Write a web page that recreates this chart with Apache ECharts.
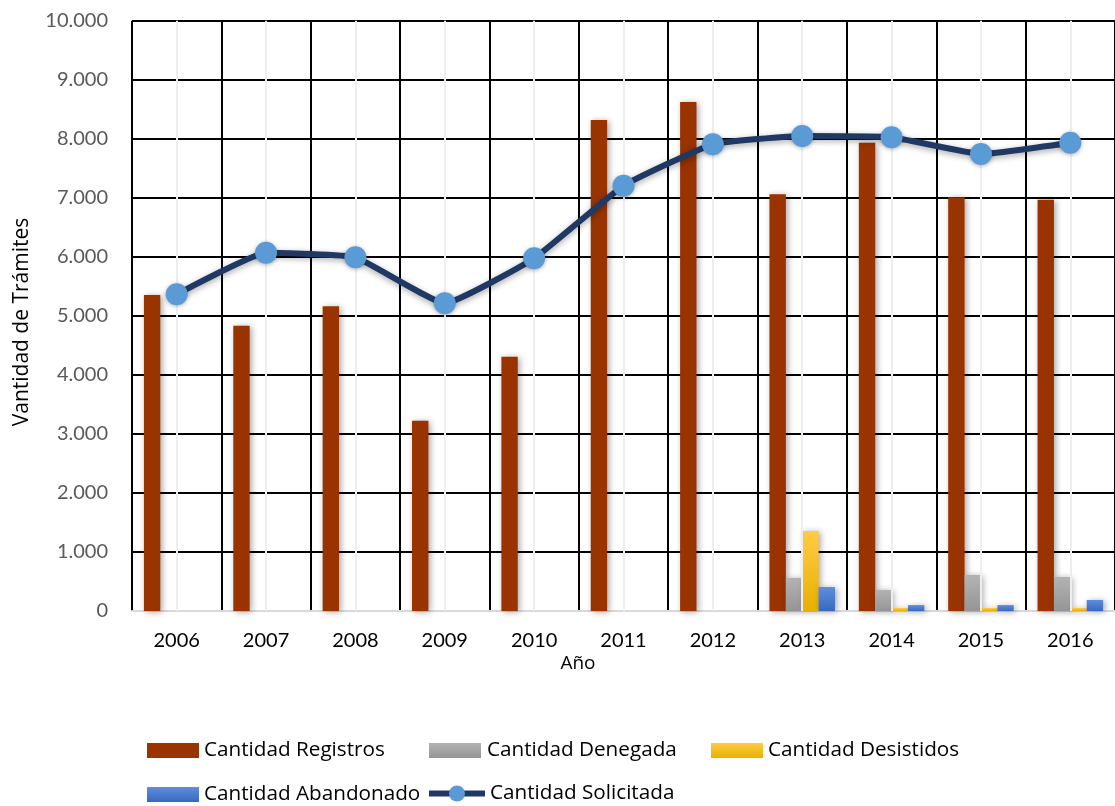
<!DOCTYPE html>
<html><head><meta charset="utf-8">
<script src="https://cdn.jsdelivr.net/npm/echarts@6/dist/echarts.min.js"></script>
<style>html,body{margin:0;padding:0;background:#fff}#c{width:1115px;height:806px}</style>
</head><body><div id="c"></div>
<script>
const years = ['2006','2007','2008','2009','2010','2011','2012','2013','2014','2015','2016'];
const registros  = [5353,4834,5162,3224,4308,8318,8623,7059,7933,7008,6968];
const denegada   = [0,0,0,0,0,0,0,559,356,610,576];
const desistidos = [0,0,0,0,0,0,0,1355,50,50,50];
const abandonado = [0,0,0,0,0,0,0,406,100,100,186];
const solicitada = [5365,6070,5992,5213,5975,7205,7906,8047,8025,7742,7934];
const yMin = 0, yMax = 10000, yStep = 1000;
const names = ['Cantidad Registros','Cantidad Denegada','Cantidad Desistidos','Cantidad Abandonado','Cantidad Solicitada'];

const FONT = 'Lato';
const LFONT = 'Open Sans';
const fmt = v => String(v).replace(/\B(?=(\d{3})+(?!\d))/g, '.');
const grad = (a, b) => new echarts.graphic.LinearGradient(0,0,0,1,[{offset:0,color:a},{offset:1,color:b}]);
const shadow = {shadowBlur:6, shadowColor:'rgba(0,0,0,0.35)', shadowOffsetX:2, shadowOffsetY:1};

const chart = echarts.init(document.getElementById('c'), null, {renderer:'canvas'});
function legendAt(name, left, top, w, h, pad, icon) {
  const l = {data:[{name:name, icon:icon}], left:left, top:top, itemWidth:w, itemHeight:h, orient:'horizontal',
    selectedMode:false, padding:0, itemGap:0,
    lineStyle:{width:6, color:'#203864'},
    textStyle:{fontFamily:LFONT, fontSize:20.7, color:'#000', padding:[0,0,0,pad]}};
  if (!icon) l.data = [name];
  return l;
}
chart.setOption({
  animation:false,
  textStyle:{fontFamily:FONT},
  grid:{left:132, top:20.7, width:990, height:590.3, containLabel:false},
  legend:[
    legendAt(names[0], 147, 740, 52, 15, 0, 'rect'),
    legendAt(names[1], 429, 740, 52, 15, 1, 'rect'),
    legendAt(names[2], 711, 740, 52, 15, 0, 'rect'),
    legendAt(names[3], 147, 784, 52, 15, 0, 'rect'),
    legendAt(names[4], 426, 783, 56, 20, 0, null)
  ],
  xAxis:{type:'category', data:years, boundaryGap:true,
    axisLine:{show:true, lineStyle:{color:'#d9d9d9', width:2}},
    axisTick:{show:false},
    axisLabel:{fontFamily:FONT, fontSize:20, color:'#000', margin:20, interval:0},
    splitLine:{show:true, interval:0, lineStyle:{color:'#000', width:2}}},
  yAxis:{type:'value', min:yMin, max:yMax, interval:yStep,
    axisLine:{show:false}, axisTick:{show:false},
    axisLabel:{fontFamily:FONT, fontSize:20, color:'#595959', margin:24, formatter:fmt},
    splitLine:{show:true, lineStyle:{color:'#000', width:2}}},
  graphic:[
    {type:'text', x:22, y:322, rotation:Math.PI/2, style:{text:'Vantidad de Trámites', fontFamily:LFONT, fontSize:21, fill:'#000', textAlign:'center', textVerticalAlign:'middle'}},
    {type:'text', x:578, y:664, style:{text:'Año', fontFamily:LFONT, fontSize:19, fill:'#000', textAlign:'center', textVerticalAlign:'middle'}}
  ],
  series:[
    {type:'line', data:[], silent:true, z:1, symbol:'none',
      markLine:{silent:true, symbol:'none', label:{show:false}, animation:false,
        lineStyle:{color:'#eeeeee', width:2, type:'solid'},
        data:years.map(y => ({xAxis:y}))}},
    {name:names[0], type:'bar', data:registros, barGap:'0%', barCategoryGap:'26.7%', z:3,
      itemStyle:Object.assign({color:'#993300'}, shadow)},
    {name:names[1], type:'bar', data:denegada, barGap:'0%', z:3,
      itemStyle:Object.assign({color:grad('#b3b3b3','#959595')}, shadow)},
    {name:names[2], type:'bar', data:desistidos, barGap:'0%', z:3,
      itemStyle:Object.assign({color:grad('#ffcb45','#e8b000')}, shadow)},
    {name:names[3], type:'bar', data:abandonado, barGap:'0%', z:3,
      itemStyle:Object.assign({color:grad('#5d8fdc','#3a68c0')}, shadow)},
    {name:names[4], type:'line', data:solicitada, smooth:0.12, z:5,
      symbol:'circle', symbolSize:22,
      lineStyle:{color:'#203864', width:6, shadowBlur:6, shadowColor:'rgba(0,0,0,0.35)', shadowOffsetY:2},
      itemStyle:{color:'#5b9bd5', borderWidth:0, shadowBlur:4, shadowColor:'rgba(0,0,0,0.3)', shadowOffsetY:1}}
  ]
});
</script></body></html>
